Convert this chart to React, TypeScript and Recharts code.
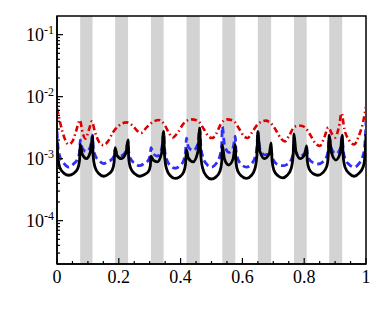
import React from 'react';
import { LineChart, Line, XAxis, YAxis, ReferenceArea } from 'recharts';

// shared abscissae for the solid and dashed series
const xs = [
  0, 0.003, 0.009, 0.023, 0.038, 0.053, 0.067, 0.073,
  0.075, 0.082, 0.095, 0.108, 0.115,
  0.117, 0.123, 0.136, 0.151, 0.166, 0.179, 0.185,
  0.188, 0.194, 0.2085, 0.223, 0.23,
  0.232, 0.238, 0.252, 0.267, 0.282, 0.296, 0.302,
  0.304, 0.311, 0.325, 0.339, 0.345,
  0.348, 0.354, 0.367, 0.382, 0.397, 0.41, 0.416,
  0.419, 0.425, 0.4405, 0.456, 0.462,
  0.465, 0.471, 0.484, 0.499, 0.514, 0.527, 0.533,
  0.535, 0.542, 0.556, 0.57, 0.577,
  0.579, 0.585, 0.598, 0.613, 0.628, 0.641, 0.647,
  0.65, 0.656, 0.6715, 0.687, 0.693,
  0.696, 0.702, 0.715, 0.73, 0.745, 0.758, 0.764,
  0.767, 0.773, 0.787, 0.801, 0.808,
  0.81, 0.816, 0.8295, 0.8445, 0.8595, 0.873, 0.878,
  0.881, 0.888, 0.9025, 0.917, 0.923,
  0.926, 0.932, 0.946, 0.9615, 0.977, 0.991, 0.997, 1.0,
];

const solid = [
  2.0e-3, 1.04e-3, 7.2e-4, 5.8e-4, 5.4e-4, 5.75e-4, 6.9e-4, 9.5e-4,
  1.7e-3, 1.17e-3, 1.0e-3, 1.28e-3, 2.3e-3,
  1.1e-3, 7.3e-4, 5.7e-4, 5.2e-4, 5.6e-4, 6.6e-4, 8.9e-4,
  1.5e-3, 1.13e-3, 1.0e-3, 1.23e-3, 2.0e-3,
  1.02e-3, 7.05e-4, 5.7e-4, 5.2e-4, 5.5e-4, 6.2e-4, 7.6e-4,
  1.1e-3, 9.5e-4, 8.9e-4, 1.25e-3, 2.75e-3,
  1.15e-3, 7.0e-4, 5.3e-4, 4.8e-4, 5.1e-4, 6.1e-4, 8.2e-4,
  1.4e-3, 1.02e-3, 8.9e-4, 1.3e-3, 3.1e-3,
  1.2e-3, 7.1e-4, 5.2e-4, 4.7e-4, 5.05e-4, 6.2e-4, 8.8e-4,
  1.65e-3, 9.9e-4, 7.9e-4, 1.0e-3, 1.7e-3,
  9.0e-4, 6.3e-4, 5.2e-4, 4.8e-4, 5.3e-4, 7.0e-4, 1.15e-3,
  2.75e-3, 1.35e-3, 1.0e-3, 1.2e-3, 1.8e-3,
  9.4e-4, 6.5e-4, 5.3e-4, 4.9e-4, 5.4e-4, 7.0e-4, 1.11e-3,
  2.5e-3, 1.32e-3, 1.0e-3, 1.15e-3, 1.6e-3,
  9.2e-4, 6.8e-4, 5.7e-4, 5.4e-4, 5.9e-4, 7.5e-4, 1.14e-3,
  2.4e-3, 1.26e-3, 9.5e-4, 1.26e-3, 2.4e-3,
  1.12e-3, 7.3e-4, 5.75e-4, 5.2e-4, 5.8e-4, 7.4e-4, 1.15e-3, 2.5e-3,
];

const dashed = [
  2.75e-3, 1.6e-3, 1.1e-3, 8.3e-4, 7.3e-4, 8.2e-4, 1.0e-3, 1.3e-3,
  2.0e-3, 1.48e-3, 1.3e-3, 1.56e-3, 2.4e-3,
  1.55e-3, 1.15e-3, 9.3e-4, 8.3e-4, 9.0e-4, 9.9e-4, 1.15e-3,
  1.4e-3, 1.2e-3, 1.12e-3, 1.32e-3, 1.9e-3,
  1.32e-3, 1.0e-3, 8.4e-4, 7.7e-4, 8.3e-4, 9.5e-4, 1.15e-3,
  1.5e-3, 1.21e-3, 1.1e-3, 1.43e-3, 2.6e-3,
  1.5e-3, 1.0e-3, 7.7e-4, 7.0e-4, 7.6e-4, 9.4e-4, 1.3e-3,
  2.15e-3, 1.55e-3, 1.35e-3, 1.74e-3, 3.1e-3,
  1.7e-3, 1.1e-3, 8.2e-4, 7.3e-4, 8.2e-4, 1.1e-3, 1.7e-3,
  3.3e-3, 1.68e-3, 1.26e-3, 1.51e-3, 2.3e-3,
  1.42e-3, 1.0e-3, 8.0e-4, 7.3e-4, 8.1e-4, 1.05e-3, 1.55e-3,
  2.75e-3, 1.49e-3, 1.15e-3, 1.22e-3, 1.4e-3,
  1.1e-3, 9.2e-4, 8.0e-4, 7.7e-4, 8.1e-4, 9.6e-4, 1.22e-3,
  1.7e-3, 1.25e-3, 1.1e-3, 1.22e-3, 1.55e-3,
  1.2e-3, 9.8e-4, 8.6e-4, 8.2e-4, 8.8e-4, 1.08e-3, 1.48e-3,
  2.3e-3, 1.46e-3, 1.2e-3, 1.46e-3, 2.3e-3,
  1.42e-3, 1.0e-3, 8.0e-4, 7.3e-4, 8.3e-4, 1.15e-3, 1.9e-3, 4.0e-3,
];

const redX = [
  0, 0.012, 0.025, 0.037, 0.05, 0.062, 0.074, 0.083, 0.092, 0.104, 0.113, 0.122,
  0.135, 0.15, 0.165, 0.18, 0.2, 0.225, 0.245, 0.26, 0.272, 0.29, 0.31, 0.33,
  0.35, 0.362, 0.375, 0.39, 0.41, 0.435, 0.455, 0.475, 0.49, 0.502, 0.515, 0.53,
  0.55, 0.57, 0.59, 0.605, 0.617, 0.63, 0.65, 0.675, 0.695, 0.71, 0.725, 0.738,
  0.752, 0.77, 0.79, 0.805, 0.82, 0.835, 0.85, 0.865, 0.878, 0.89, 0.9, 0.912,
  0.921, 0.93, 0.945, 0.962, 0.975, 0.99, 1.0,
];
const dashDot = [
  6.5e-3, 3.5e-3, 2.1e-3, 1.7e-3, 1.9e-3, 2.8e-3, 4.2e-3, 2.6e-3, 2.1e-3, 3.0e-3, 4.0e-3, 2.8e-3,
  1.9e-3, 1.65e-3, 1.9e-3, 2.6e-3, 3.4e-3, 3.85e-3, 3.4e-3, 2.8e-3, 2.6e-3, 3.2e-3, 3.9e-3, 4.2e-3,
  3.4e-3, 2.6e-3, 2.2e-3, 2.6e-3, 3.7e-3, 4.3e-3, 4.1e-3, 3.0e-3, 2.3e-3, 2.15e-3, 2.5e-3, 3.6e-3,
  4.3e-3, 4.1e-3, 3.0e-3, 2.3e-3, 2.15e-3, 2.6e-3, 3.6e-3, 4.1e-3, 3.6e-3, 2.8e-3, 2.1e-3, 1.9e-3,
  2.4e-3, 3.3e-3, 3.4e-3, 3.1e-3, 2.4e-3, 1.8e-3, 1.6e-3, 2.2e-3, 3.2e-3, 2.5e-3, 2.2e-3, 3.2e-3,
  5.4e-3, 3.0e-3, 2.0e-3, 1.7e-3, 2.2e-3, 3.8e-3, 6.8e-3,
];

// shaded bands
const bandStart = [0.075, 0.188, 0.304, 0.419, 0.535, 0.65, 0.767, 0.881];
const bandEnd = [0.115, 0.23, 0.345, 0.462, 0.577, 0.693, 0.808, 0.923];

// axes
const xTicks = [0, 0.05, 0.1, 0.15, 0.2, 0.25, 0.3, 0.35, 0.4, 0.45, 0.5, 0.55, 0.6, 0.65, 0.7, 0.75, 0.8, 0.85, 0.9, 0.95, 1];
const xMajor = [0, 0.2, 0.4, 0.6, 0.8, 1];
const xTickLabels = ['0', '0.2', '0.4', '0.6', '0.8', '1'];
const yMajor = [1e-4, 1e-3, 1e-2, 1e-1];
const yExpLabels = ['-4', '-3', '-2', '-1'];
const yMinor = [
  3e-5, 4e-5, 5e-5, 6e-5, 7e-5, 8e-5, 9e-5,
  2e-4, 3e-4, 4e-4, 5e-4, 6e-4, 7e-4, 8e-4, 9e-4,
  2e-3, 3e-3, 4e-3, 5e-3, 6e-3, 7e-3, 8e-3, 9e-3,
  2e-2, 3e-2, 4e-2, 5e-2, 6e-2, 7e-2, 8e-2, 9e-2,
];
const yDomain = [2e-5, 0.2];

const FONT = 'Liberation Serif';

const solidData = xs.map((x, i) => ({ x, v: solid[i] }));
const dashedData = xs.map((x, i) => ({ x, v: dashed[i] }));
const dashDotData = redX.map((x, i) => ({ x, v: dashDot[i] }));

const near = (a: number, b: number) => Math.abs(a - b) < 1e-9 * Math.max(1, Math.abs(b));

const YTick = (props: any) => {
  const { x, y, payload } = props;
  const v = payload.value as number;
  const mi = yMajor.findIndex((m) => Math.abs(Math.log10(v) - Math.log10(m)) < 1e-6);
  const major = mi >= 0;
  return (
    <g>
      <line x1={x} x2={x + (major ? 6 : 3)} y1={y} y2={y} stroke="#000" strokeWidth={1.2} />
      {major && (
        <text x={x - 3} y={y + 6} textAnchor="end" fontFamily={FONT} fontSize={18} fill="#000">
          <tspan>10</tspan>
          <tspan dy={-7} fontSize={12}>{yExpLabels[mi]}</tspan>
        </text>
      )}
    </g>
  );
};

const XTick = (props: any) => {
  const { x, y, payload } = props;
  const v = payload.value as number;
  const mi = xMajor.findIndex((m) => near(v, m));
  const major = mi >= 0;
  return (
    <g>
      <line x1={x} x2={x} y1={y} y2={y - (major ? 6 : 3)} stroke="#000" strokeWidth={1.2} />
      {major && (
        <text x={x} y={y + 19} textAnchor="middle" fontFamily={FONT} fontSize={18} fill="#000">
          {xTickLabels[mi]}
        </text>
      )}
    </g>
  );
};

export default function App() {
  return (
    <div style={{ position: 'absolute', left: 0, top: 0, width: 374, height: 312, background: '#fff' }}>
      <LineChart width={374} height={312} margin={{ top: 16, right: 8, bottom: 0, left: 0 }}>
        <XAxis
          dataKey="x"
          type="number"
          domain={[0, 1]}
          ticks={xTicks}
          interval={0}
          height={48}
          tickSize={0}
          tickMargin={0}
          tick={<XTick />}
          axisLine={{ stroke: '#000', strokeWidth: 1.5 }}
          allowDataOverflow
        />
        <YAxis
          dataKey="v"
          type="number"
          scale="log"
          domain={yDomain}
          ticks={[...yMinor, ...yMajor].sort((a, b) => a - b)}
          interval={0}
          width={57}
          tickSize={0}
          tickMargin={0}
          tick={<YTick />}
          axisLine={{ stroke: '#000', strokeWidth: 1.5 }}
          allowDataOverflow
        />
        {bandStart.map((s, i) => (
          <ReferenceArea key={i} x1={s} x2={bandEnd[i]} y1={yDomain[0]} y2={yDomain[1]} fill="#d3d3d3" fillOpacity={1} stroke="none" />
        ))}
        <Line data={dashDotData} dataKey="v" type="monotone" stroke="#dd0000" strokeWidth={2.6} strokeDasharray="6 3 1.5 3" dot={false} isAnimationActive={false} />
        <Line data={dashedData} dataKey="v" type="monotone" stroke="#2f2ff5" strokeWidth={2.8} strokeDasharray="7 4" dot={false} isAnimationActive={false} />
        <Line data={solidData} dataKey="v" type="monotone" stroke="#000" strokeWidth={2.8} dot={false} isAnimationActive={false} />
        <ReferenceArea x1={0} x2={1} y1={yDomain[0]} y2={yDomain[1]} fill="none" stroke="#000" strokeWidth={1.5} />
      </LineChart>
    </div>
  );
}
